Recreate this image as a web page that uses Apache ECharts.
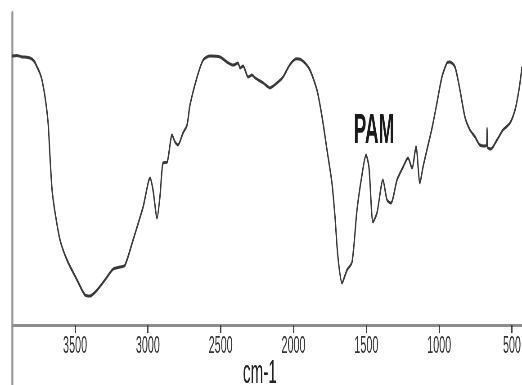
<!DOCTYPE html>
<html>
<head>
<meta charset="utf-8">
<script src="https://cdn.jsdelivr.net/npm/echarts@6/dist/echarts.min.js"></script>
<style>
html,body{margin:0;padding:0;background:#fff;overflow:hidden;width:522px;height:385px;}
#chart{width:1160px;height:385px;transform:scaleX(0.45);transform-origin:0 0;}
</style>
</head>
<body>
<div id="chart"></div>
<script>
// FTIR spectrum of PAM (wavenumber in cm-1, transmittance arbitrary units)
const wavenumbers = [3932,3900,3870,3809,3780,3761,3740,3727,3706,3685,3672,3658,3637,3603,3555,3486,3431,3397,3349,3280,3239,3191,3157,3102,3033,2985,2965,2937,2916,2896,2868,2834,2814,2793,2759,2731,2711,2662,2621,2573,2505,2457,2413,2381,2367,2346,2312,2285,2264,2209,2161,2113,2072,2024,1976,1935,1887,1839,1804,1770,1736,1715,1695,1667,1633,1598,1564,1530,1502,1482,1454,1427,1386,1358,1331,1289,1248,1214,1186,1159,1132,1111,1084,1049,1015,981,946,926,891,857,823,788,754,720,685,674,671,668,644,603,562,514,479,452,431];
const transmittance = [86.2,86.4,86.0,85.6,84.5,82.7,80.5,78.5,73.1,64.7,53.8,43.3,35.9,27.2,20.8,14.4,9.6,9.3,11.2,15.4,17.9,18.6,19.2,27.2,37.8,47.1,43.3,34.3,41.7,51.9,52.2,60.9,58.7,57.7,61.5,64.1,70.5,79.5,84.9,86.2,85.9,84.3,83.3,84.0,82.4,83.0,79.5,80.1,79.2,77.6,76.0,77.6,79.5,83.5,85.3,84.6,81.7,75.3,66.7,56.1,45.5,34.6,21.8,13.5,17.6,20.2,36.9,48.1,54.5,50.6,33.0,35.9,46.5,40.1,39.1,46.5,50.6,53.5,50.3,57.1,45.5,50.6,56.1,63.1,71.2,79.5,84.0,84.3,82.7,75.3,66.7,62.5,60.3,57.7,57.4,57.6,63.1,57.1,56.4,59.3,62.5,64.7,68.9,75.3,82.7];
const tickLabels = [3500,3000,2500,2000,1500,1000,500];
const sampleLabel = 'PAM';
const axisTitle = 'cm-1';

const points = wavenumbers.map((w, i) => [w, transmittance[i]]);

const chart = echarts.init(document.getElementById('chart'), null, {renderer: 'canvas'});
chart.setOption({
  animation: false,
  backgroundColor: '#ffffff',
  title: {
    text: sampleLabel,
    left: 786,
    top: 110,
    padding: 0,
    textStyle: {fontFamily: 'Liberation Sans', fontSize: 42, fontWeight: 'bold', color: '#1a1a1a'}
  },
  grid: [
    {left: 27, right: 0, top: 13, bottom: 60, containLabel: false, outerBoundsMode: 'none'},
    {left: 27, right: 0, top: 13, bottom: 0, containLabel: false, outerBoundsMode: 'none'}
  ],
  xAxis: [{
    gridIndex: 0,
    type: 'value',
    inverse: true,
    min: 431,
    max: 3932,
    name: axisTitle,
    nameLocation: 'middle',
    nameGap: 32,
    nameMoveOverlap: false,
    nameTextStyle: {fontFamily: 'Liberation Sans', fontSize: 34, color: '#222', padding: [0, 32, 0, 0]},
    axisLine: {onZero: false, lineStyle: {color: '#8e8e8e', width: 3}},
    axisTick: {show: true, inside: false, length: 8, customValues: tickLabels, lineStyle: {color: '#444', width: 3}},
    axisLabel: {show: true, customValues: tickLabels, margin: 9, fontFamily: 'Liberation Sans', fontSize: 24, color: '#333', formatter: v => String(v)},
    splitLine: {show: false}
  }, {
    gridIndex: 1,
    type: 'value',
    show: false
  }],
  yAxis: [{
    gridIndex: 0,
    type: 'value',
    min: 0,
    max: 100,
    axisLine: {show: false},
    axisTick: {show: false},
    axisLabel: {show: false},
    splitLine: {show: false}
  }, {
    gridIndex: 1,
    type: 'value',
    min: 0,
    max: 1,
    axisLine: {show: true, onZero: false, lineStyle: {color: '#999', width: 4.5}},
    axisTick: {show: false},
    axisLabel: {show: false},
    splitLine: {show: false}
  }],
  series: [{
    type: 'line',
    xAxisIndex: 0,
    yAxisIndex: 0,
    data: points,
    smooth: 0.25,
    showSymbol: false,
    lineStyle: {color: '#3a3a3a', width: 3}
  }]
});
</script>
</body>
</html>
